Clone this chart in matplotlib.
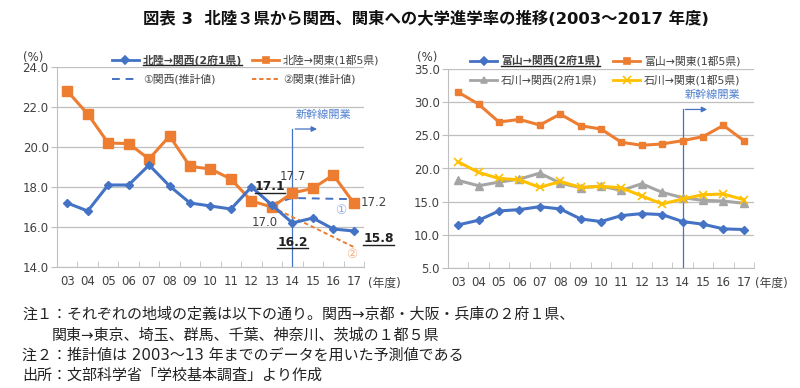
import numpy as np
import matplotlib
matplotlib.use("Agg")
import matplotlib.pyplot as plt
from matplotlib.lines import Line2D

plt.rcParams['font.family'] = ['DejaVu Sans', 'Noto Sans CJK JP']

years = ['03', '04', '05', '06', '07', '08', '09', '10', '11', '12', '13', '14', '15', '16', '17']

# left chart: Hokuriku 3 prefectures
hokuriku_kansai = [17.2, 16.8, 18.1, 18.1, 19.1, 18.05, 17.2, 17.05, 16.9, 18.0, 17.1, 16.2, 16.45, 15.9, 15.8]
hokuriku_kanto = [22.8, 21.65, 20.2, 20.17, 19.4, 20.55, 19.03, 18.9, 18.4, 17.3, 17.0, 17.7, 17.93, 18.6, 17.2]
est_years = ['13', '14', '15', '16', '17']
est_kansai = [17.15, 17.45, 17.43, 17.41, 17.39]
est_kanto = [17.0, 16.5, 16.0, 15.5, 15.0]

# right chart: Toyama / Ishikawa
toyama_kansai = [11.5, 12.2, 13.6, 13.8, 14.25, 13.9, 12.4, 12.0, 12.9, 13.2, 13.05, 12.0, 11.6, 10.9, 10.8]
toyama_kanto = [31.5, 29.7, 27.0, 27.4, 26.55, 28.2, 26.45, 25.95, 23.95, 23.5, 23.7, 24.2, 24.8, 26.5, 24.2]
ishikawa_kansai = [18.2, 17.4, 17.95, 18.4, 19.3, 17.8, 17.1, 17.35, 16.7, 17.7, 16.4, 15.6, 15.2, 15.1, 14.75]
ishikawa_kanto = [21.0, 19.4, 18.5, 18.3, 17.15, 18.05, 17.15, 17.3, 17.1, 15.85, 14.65, 15.4, 16.05, 16.15, 15.3]

BLUE = '#4472C4'
ORANGE = '#ED7D31'
GRAY = '#A5A5A5'
YELLOW = '#FFC000'
TXT = '#404040'

W, H = 800, 388
fig = plt.figure(figsize=(W / 100, H / 100), dpi=100)


def fx(px):
    return px / W


def fy(py):
    return 1 - py / H


underlined = []


def setup_axes(ax, ylim, step):
    ax.set_xlim(-0.5, len(years) - 0.5)
    ax.set_ylim(*ylim)
    ax.set_yticks(np.arange(ylim[0], ylim[1] + 0.01, step))
    ax.yaxis.set_major_formatter(matplotlib.ticker.FormatStrFormatter('%.1f'))
    ax.set_xticks(range(len(years)))
    ax.set_xticklabels(years)
    ax.set_xticks(np.arange(-0.5, len(years), 1), minor=True)
    ax.tick_params(axis='x', which='major', length=0, labelsize=8.5, colors=TXT, pad=6)
    ax.tick_params(axis='x', which='minor', length=4, direction='in', color='#BFBFBF')
    ax.tick_params(axis='y', length=4, direction='out', color='#BFBFBF', labelsize=8.5, labelcolor=TXT, pad=2)
    ax.grid(axis='y', color='#BFBFBF', lw=0.9)
    ax.set_axisbelow(True)
    for s in ['top', 'right']:
        ax.spines[s].set_visible(False)
    for s in ['left', 'bottom']:
        ax.spines[s].set_color('#BFBFBF')


def legend_item(x0, y, color, marker, ls, label, bold=False, ms=5, lw=2):
    fig.add_artist(Line2D([fx(x0), fx(x0 + 27)], [fy(y)] * 2, transform=fig.transFigure,
                          color=color, lw=lw, ls=ls))
    if marker:
        fig.add_artist(Line2D([fx(x0 + 13.5)], [fy(y)], transform=fig.transFigure, color=color,
                              marker=marker, ms=ms, mew=1.2))
    t = fig.text(fx(x0 + 31), fy(y), label, va='center', ha='left', fontsize=7.8, color=TXT,
                 fontweight='bold' if bold else 'normal')
    if bold:
        underlined.append(t)


def shinkansen(ax, top, arrow_end, tx, ty):
    ax.plot([11, 11], [ax.get_ylim()[0], top], color=BLUE, lw=0.9, zorder=1)
    ax.annotate('', xy=(arrow_end, top), xytext=(11, top),
                arrowprops=dict(arrowstyle='-|>', color=BLUE, lw=0.9, mutation_scale=8))
    ax.text(tx, ty, '新幹線開業', color='#4F7FCF', fontsize=8, ha='center', va='center')


x = np.arange(len(years))
ex = [years.index(y) for y in est_years]

# ---- left chart
ax1 = fig.add_axes([fx(57), fy(267), fx(364) - fx(57), (267 - 67) / H])
setup_axes(ax1, (14, 24), 2)
ax1.plot(x, hokuriku_kanto, color=ORANGE, lw=2.2, marker='s', ms=6.5, zorder=3)
ax1.plot(x, hokuriku_kansai, color=BLUE, lw=2.2, marker='D', ms=4.5, zorder=4)
ax1.plot(ex, est_kansai, color=BLUE, lw=1.4, ls=(0, (4, 3)), zorder=2)
ax1.plot(ex, est_kanto, color=ORANGE, lw=1.4, ls=(0, (2.2, 1.5)), zorder=2)
shinkansen(ax1, 20.9, 12.34, 12.5, 21.6)

ax1.text(11, 18.5, '17.7', fontsize=8.5, color=TXT, ha='center', va='center')
ax1.text(9.65, 16.2, '17.0', fontsize=8.5, color=TXT, ha='center', va='center')
ax1.text(15.0, 17.2, '17.2', fontsize=8.5, color=TXT, ha='center', va='center', clip_on=False)
for xx, yy, s in [(9.9, 18.0, '17.1'), (11, 15.25, '16.2'), (15.2, 15.4, '15.8')]:
    t = ax1.text(xx, yy, s, fontsize=8.8, fontweight='bold', color='#202020', ha='center',
                 va='center', clip_on=False)
    underlined.append(t)
ax1.text(13.37, 16.85, '①', fontsize=9, color='#8FAADC', ha='center', va='center')
ax1.text(13.9, 14.65, '②', fontsize=9, color='#F4B183', ha='center', va='center')

legend_item(112, 60, BLUE, 'D', '-', '北陸→関西(2府1県)', bold=True, ms=4)
legend_item(252, 60, ORANGE, 's', '-', '北陸→関東(1都5県)', ms=5)
legend_item(112, 79, BLUE, None, (0, (4, 3)), '①関西(推計値)', lw=1.4)
legend_item(252, 79, ORANGE, None, (0, (2.2, 1.5)), '②関東(推計値)', lw=1.4)

# ---- right chart
ax2 = fig.add_axes([fx(448), fy(268), fx(754) - fx(448), (268 - 69) / H])
setup_axes(ax2, (5, 35), 5)
ax2.plot(x, toyama_kanto, color=ORANGE, lw=2.2, marker='s', ms=5, zorder=3)
ax2.plot(x, ishikawa_kansai, color=GRAY, lw=2.2, marker='^', ms=5.5, zorder=3)
ax2.plot(x, ishikawa_kanto, color=YELLOW, lw=2.2, marker='x', ms=6, mew=1.2, zorder=4)
ax2.plot(x, toyama_kansai, color=BLUE, lw=2.2, marker='D', ms=4.5, zorder=4)
shinkansen(ax2, 28.9, 12.34, 12.45, 31.1)

legend_item(470, 61, BLUE, 'D', '-', '富山→関西(2府1県)', bold=True, ms=4)
legend_item(613, 61, ORANGE, 's', '-', '富山→関東(1都5県)', ms=5)
legend_item(470, 80, GRAY, '^', '-', '石川→関西(2府1県)', ms=5)
legend_item(613, 80, YELLOW, 'x', '-', '石川→関東(1都5県)', ms=6)

# ---- axis unit texts
fig.text(fx(33), fy(57), '(%)', fontsize=8.5, color=TXT, ha='center', va='center')
fig.text(fx(427), fy(58), '(%)', fontsize=8.5, color=TXT, ha='center', va='center')
fig.text(fx(368), fy(283), '(年度)', fontsize=8.5, color=TXT, ha='left', va='center')
fig.text(fx(755), fy(283), '(年度)', fontsize=8.5, color=TXT, ha='left', va='center')

# ---- title and notes
fig.text(fx(143), fy(19), '図表 3  北陸３県から関西、関東への大学進学率の推移(2003～2017 年度)',
         fontsize=11.8, fontweight='bold', ha='left', va='center', color='#111111')
notes = [
    (22, 314, '注１：それぞれの地域の定義は以下の通り。関西→京都・大阪・兵庫の２府１県、'),
    (52, 335, '関東→東京、埼玉、群馬、千葉、神奈川、茨城の１都５県'),
    (22, 355, '注２：推計値は 2003～13 年までのデータを用いた予測値である'),
    (22, 375, '出所：文部科学省「学校基本調査」より作成'),
]
for nx, ny, s in notes:
    fig.text(fx(nx), fy(ny), s, fontsize=10.8, ha='left', va='center', color='#222222')

# underline the bold labels
fig.canvas.draw()
renderer = fig.canvas.get_renderer()
inv = fig.transFigure.inverted()
for t in underlined:
    bb = t.get_window_extent(renderer=renderer)
    (x0, y0), (x1, _) = inv.transform([(bb.x0, bb.y0 + 0.5), (bb.x1, bb.y0 + 0.5)])
    fig.add_artist(Line2D([x0, x1], [y0, y0], transform=fig.transFigure, color='#202020', lw=1))

fig.savefig('out.png', dpi=100)
